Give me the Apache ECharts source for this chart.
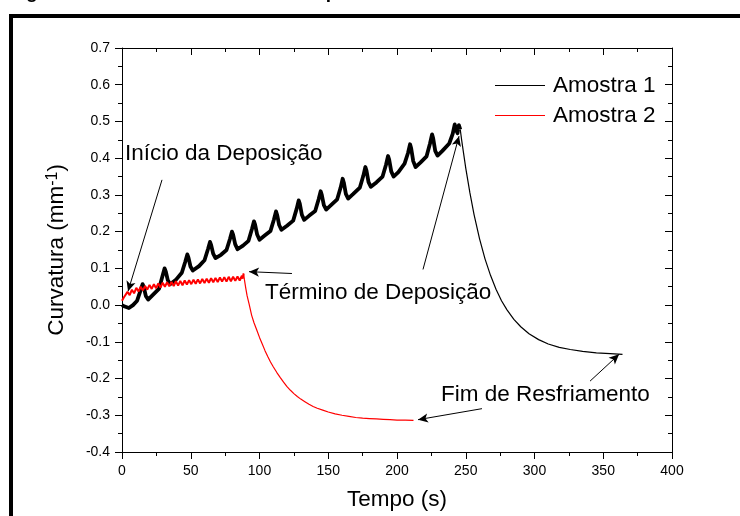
<!DOCTYPE html>
<html>
<head>
<meta charset="utf-8">
<script src="https://cdn.jsdelivr.net/npm/echarts@6/dist/echarts.min.js"></script>
<style>
  html, body { margin: 0; padding: 0; background: #fff; }
  #chart { width: 740px; height: 516px; }
</style>
</head>
<body>
<div id="chart"></div>
<script>
// Tempo (s) e curvatura (mm^-1) de cada amostra
const amostra1Deposicao = [
  [0, 0.000], [2, -0.004], [5, -0.008], [8, 0.000], [11, 0.012], [13.5, 0.040],
  [15, 0.057], [15.8, 0.050], [17.3, 0.025], [19, 0.015],
  [23, 0.030], [27, 0.045], [29.5, 0.080], [31, 0.100], [31.8, 0.092], [33.3, 0.068], [35, 0.057],
  [39, 0.068], [43.5, 0.088], [46, 0.118], [47.5, 0.138], [48.3, 0.130], [49.8, 0.105], [51.5, 0.094],
  [56, 0.106], [60, 0.122], [62.5, 0.152], [64, 0.172], [64.8, 0.164], [66.3, 0.140], [68, 0.128],
  [72, 0.137], [76, 0.150], [78.5, 0.180], [80, 0.200], [80.8, 0.192], [82.3, 0.166], [84, 0.152],
  [88, 0.162], [92, 0.175], [94.5, 0.207], [96, 0.228], [96.8, 0.219], [98.3, 0.192], [100, 0.178],
  [104, 0.190], [108, 0.202], [110.5, 0.233], [112, 0.255], [112.8, 0.246], [114.3, 0.218], [116, 0.205],
  [120, 0.216], [124.5, 0.230], [127, 0.262], [128.5, 0.285], [129.3, 0.276], [130.8, 0.246], [132.5, 0.232],
  [136, 0.243], [140.5, 0.256], [143, 0.288], [144.5, 0.310], [145.3, 0.300], [146.8, 0.272], [148.5, 0.260],
  [152, 0.272], [156.5, 0.288], [159, 0.320], [160.5, 0.344], [161.3, 0.334], [162.8, 0.303], [164.5, 0.290],
  [168, 0.302], [173, 0.320], [175.5, 0.352], [177, 0.376], [177.8, 0.366], [179.3, 0.335], [181, 0.322],
  [185, 0.334], [189.5, 0.350], [192, 0.382], [193.5, 0.406], [194.3, 0.396], [195.8, 0.364], [197.5, 0.350],
  [201, 0.362], [205.5, 0.385], [208, 0.414], [209.5, 0.438], [210.3, 0.427], [211.8, 0.392], [213.5, 0.376],
  [217, 0.388], [221.5, 0.405], [224, 0.440], [225.5, 0.465], [226.3, 0.454], [227.8, 0.420], [229.5, 0.407],
  [233, 0.420], [238, 0.440], [240.5, 0.466], [242, 0.492], [243, 0.478], [244, 0.468], [245, 0.490], [246, 0.478]
];
const amostra1Resfriamento = [
  [246, 0.478], [247, 0.450], [248, 0.424], [250, 0.373], [253, 0.306], [256, 0.247],
  [260, 0.181], [264, 0.126], [268, 0.081], [272, 0.043], [276, 0.012], [280, -0.013],
  [285, -0.039], [290, -0.059], [296, -0.078], [303, -0.094], [310, -0.106], [318, -0.115],
  [326, -0.121], [335, -0.126], [345, -0.130], [355, -0.132], [364, -0.134]
];
const amostra2Deposicao = [
  [0, 0.012], [1.2, 0.020], [2.4, 0.016], [4, 0.036], [5.6, 0.027], [7.2, 0.042],
  [8.8, 0.032], [10.4, 0.047], [12, 0.037], [13.6, 0.050], [15.2, 0.040], [16.8, 0.052],
  [18.4, 0.042], [20, 0.055], [21.6, 0.044], [23.2, 0.057], [24.8, 0.046], [26.4, 0.059],
  [28, 0.048], [29.6, 0.061], [31.2, 0.050], [32.8, 0.062], [34.4, 0.051], [36, 0.063],
  [37.6, 0.052], [39.2, 0.065], [40.8, 0.053], [42.4, 0.066], [44, 0.054], [45.6, 0.067],
  [47.2, 0.056], [48.8, 0.068], [50.4, 0.057], [52, 0.069], [53.6, 0.058], [55.2, 0.070],
  [56.8, 0.059], [58.4, 0.071], [60, 0.060], [61.6, 0.072], [63.2, 0.061], [64.8, 0.073],
  [66.4, 0.062], [68, 0.074], [69.6, 0.063], [71.2, 0.075], [72.8, 0.064], [74.4, 0.076],
  [76, 0.064], [77.6, 0.077], [79.2, 0.065], [80.8, 0.077], [82.4, 0.066], [84, 0.078],
  [85.6, 0.067], [87.2, 0.080], [87.8, 0.072], [88.4, 0.086]
];
const amostra2Resfriamento = [
  [88.4, 0.086], [89, 0.070], [90, 0.046], [91, 0.025], [92.5, 0.002], [94.3, -0.028],
  [96, -0.048], [98, -0.068], [100, -0.088], [102, -0.106], [104, -0.124], [106, -0.140],
  [108, -0.155], [110, -0.168], [112.5, -0.183], [115, -0.197], [117.5, -0.210], [120, -0.222],
  [122.5, -0.232], [125, -0.241], [127.5, -0.249], [130, -0.256], [133, -0.263], [136, -0.270],
  [139, -0.276], [142, -0.281], [146, -0.286], [150, -0.291], [155, -0.296], [160, -0.300],
  [165, -0.303], [170, -0.306], [175, -0.308], [180, -0.309], [185, -0.310], [190, -0.311],
  [195, -0.312], [200, -0.313], [206, -0.313], [212, -0.314]
];
const nomesSeries = ['Amostra 1', 'Amostra 2'];
const eixoTempo = { min: 0, max: 400, step: 50 };
const eixoCurvatura = { min: -0.4, max: 0.7, step: 0.1 };

const FONTE = "'Liberation Sans', Arial, sans-serif";
const PRETO = '#000';
const VERMELHO = '#ff0000';

const chart = echarts.init(document.getElementById('chart'), null, { renderer: 'canvas' });

function eixoX(principal) {
  return {
    type: 'value', min: eixoTempo.min, max: eixoTempo.max, interval: eixoTempo.step,
    position: principal ? 'bottom' : 'top',
    axisLine: { show: true, onZero: false, lineStyle: { color: PRETO, width: 1 } },
    axisTick: { show: true, inside: !principal, length: 7, lineStyle: { color: PRETO, width: 1 } },
    minorTick: { show: true, splitNumber: 2, length: 4, lineStyle: { color: PRETO, width: 1 } },
    splitLine: { show: false },
    axisLabel: { show: principal, fontSize: 14, color: PRETO, fontFamily: FONTE, margin: 12 },
    name: principal ? 'Tempo (s)' : '', nameLocation: 'middle', nameGap: 36,
    nameTextStyle: { fontSize: 22.5, color: PRETO, fontFamily: FONTE }
  };
}
function eixoY(principal) {
  return {
    type: 'value', min: eixoCurvatura.min, max: eixoCurvatura.max, interval: eixoCurvatura.step,
    position: principal ? 'left' : 'right',
    axisLine: { show: true, onZero: false, lineStyle: { color: PRETO, width: 1 } },
    axisTick: { show: true, inside: !principal, length: 7, lineStyle: { color: PRETO, width: 1 } },
    minorTick: { show: true, splitNumber: 2, length: 4, lineStyle: { color: PRETO, width: 1 } },
    splitLine: { show: false },
    axisLabel: {
      show: principal, fontSize: 14, color: PRETO, fontFamily: FONTE, margin: 12,
      formatter: v => (Math.abs(v) < 1e-9 ? 0 : v).toFixed(1)
    },
    name: principal ? 'Curvatura (mm{sup|-1})' : '', nameLocation: 'middle', nameGap: 54, nameRotate: 90,
    nameTextStyle: {
      fontSize: 22.5, color: PRETO, fontFamily: FONTE,
      rich: { sup: { fontSize: 16, color: PRETO, fontFamily: FONTE, verticalAlign: 'top', padding: [0, 0, 4, 0] } }
    }
  };
}

const seta = (a, b) => [{ coord: a }, { coord: b }];

const option = {
  animation: false,
  backgroundColor: '#fff',
  grid: { left: 122, right: 68, top: 48, bottom: 59 },
  xAxis: [eixoX(true), eixoX(false)],
  yAxis: [eixoY(true), eixoY(false)],
  legend: {
    data: nomesSeries, orient: 'vertical', left: 495, top: 74, padding: 0,
    icon: 'rect', itemWidth: 50, itemHeight: 1.2, itemGap: 7, selectedMode: false,
    textStyle: { fontSize: 22.5, color: PRETO, fontFamily: FONTE, lineHeight: 20, padding: [0, 0, 0, 3] }
  },
  series: [
    {
      name: nomesSeries[0], type: 'line', data: amostra1Deposicao, symbol: 'none', showSymbol: false,
      lineStyle: { color: PRETO, width: 3.8, join: 'round' }, itemStyle: { color: PRETO }, z: 3, silent: true
    },
    {
      name: nomesSeries[0], type: 'line', data: amostra1Resfriamento, symbol: 'none', showSymbol: false,
      lineStyle: { color: PRETO, width: 1.2 }, itemStyle: { color: PRETO }, z: 3, silent: true
    },
    {
      name: nomesSeries[1], type: 'line', data: amostra2Deposicao, symbol: 'none', showSymbol: false,
      lineStyle: { color: VERMELHO, width: 2 }, itemStyle: { color: VERMELHO }, z: 4, silent: true
    },
    {
      name: nomesSeries[1], type: 'line', data: amostra2Resfriamento, symbol: 'none', showSymbol: false,
      lineStyle: { color: VERMELHO, width: 1.2 }, itemStyle: { color: VERMELHO }, z: 4, silent: true,
      markLine: {
        silent: true, animation: false,
        symbol: ['none', 'arrow'], symbolSize: [7, 10],
        label: { show: false },
        lineStyle: { color: PRETO, width: 1, type: 'solid' },
        itemStyle: { color: PRETO },
        emphasis: { disabled: true },
        data: [
          seta([29.1, 0.341], [4.4, 0.038]),
          seta([123.6, 0.086], [92.4, 0.091]),
          seta([218.9, 0.097], [245.1, 0.46]),
          seta([261.8, -0.282], [215.3, -0.312]),
          seta([340.4, -0.207], [361.5, -0.134])
        ]
      }
    }
  ],
  graphic: [
    // moldura da figura
    { type: 'rect', shape: { x: 9, y: 14, width: 731, height: 4 }, style: { fill: PRETO }, silent: true },
    { type: 'rect', shape: { x: 9, y: 14, width: 4, height: 502 }, style: { fill: PRETO }, silent: true },
    // legenda da figura, acima da moldura
    {
      type: 'text', x: 9, y: -7, silent: true,
      style: { text: 'Figura 4.21 – Curvatura versus tempo', font: "bold 19px 'Liberation Sans', Arial",
               fill: PRETO, verticalAlign: 'middle' }
    },
    {
      type: 'text', x: 125, y: 154, silent: true,
      style: { text: 'Início da Deposição', fontSize: 22.5, fontFamily: FONTE, fill: PRETO, verticalAlign: 'middle' }
    },
    {
      type: 'text', x: 265, y: 293, silent: true,
      style: { text: 'Término de Deposição', fontSize: 22.5, fontFamily: FONTE, fill: PRETO, verticalAlign: 'middle' }
    },
    {
      type: 'text', x: 441, y: 395, silent: true,
      style: { text: 'Fim de Resfriamento', fontSize: 22.5, fontFamily: FONTE, fill: PRETO, verticalAlign: 'middle' }
    }
  ]
};
chart.setOption(option);
</script>
</body>
</html>
